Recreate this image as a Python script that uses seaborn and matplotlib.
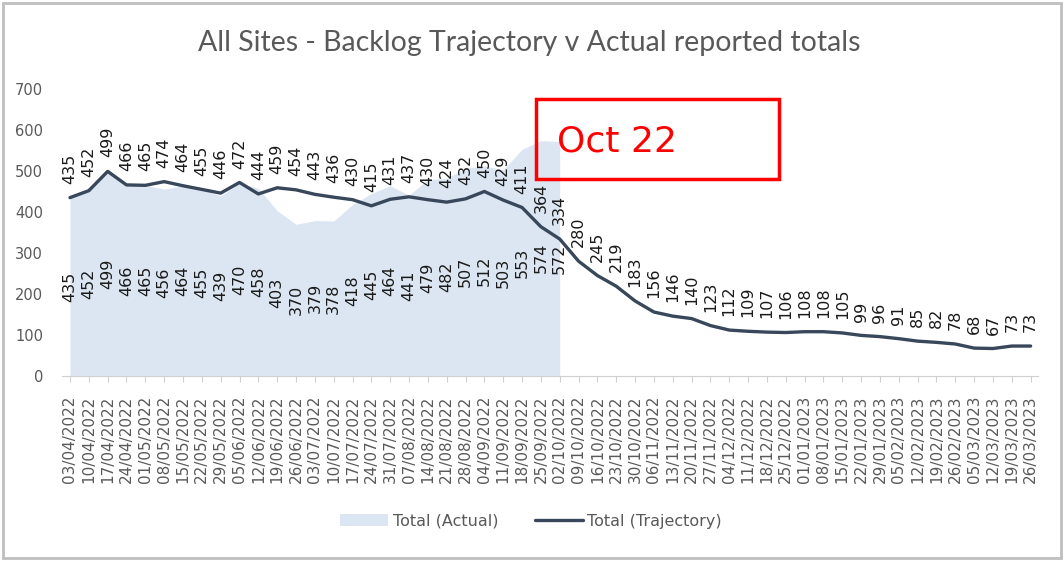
import numpy as np
import pandas as pd
import matplotlib
matplotlib.use("Agg")
import matplotlib.pyplot as plt
import seaborn as sns
from matplotlib.patches import Rectangle, Patch
from matplotlib.lines import Line2D

dates = pd.date_range("2022-04-03", "2023-03-26", freq="7D")
date_labels = [d.strftime("%d/%m/%Y") for d in dates]

trajectory = [435, 452, 499, 466, 465, 474, 464, 455, 446, 472, 444, 459, 454, 443,
              436, 430, 415, 431, 437, 430, 424, 432, 450, 429, 411, 364, 334, 280,
              245, 219, 183, 156, 146, 140, 123, 112, 109, 107, 106, 108, 108, 105,
              99, 96, 91, 85, 82, 78, 68, 67, 73, 73]
actual = [435, 452, 499, 466, 465, 456, 464, 455, 439, 470, 458, 403, 370, 379,
          378, 418, 445, 464, 441, 479, 482, 507, 512, 503, 553, 574, 572]

title = "All Sites - Backlog Trajectory v Actual reported totals"
series_names = ["Total (Actual)", "Total (Trajectory)"]
annotation = "Oct 22"

area_color = "#dce6f2"
line_color = "#38475a"
grey = "#595959"

sns.set_theme(style="white")
plt.rcParams["font.family"] = ["DejaVu Sans"]

fig = plt.figure(figsize=(10.64, 5.61), dpi=100)
ax = fig.add_axes([0.0587, 0.3298, 0.917, 0.5116])

x_all = np.arange(len(trajectory))
x_act = np.arange(len(actual))

ax.fill_between(x_act, 0, actual, color=area_color, linewidth=0, zorder=1)
df = pd.DataFrame({"x": x_all, "y": trajectory})
sns.lineplot(data=df, x="x", y="y", ax=ax, color=line_color, linewidth=2.4, zorder=3)

for xi, v in zip(x_all, trajectory):
    ax.annotate(str(v), (xi, v), xytext=(0, 10), textcoords="offset points",
                rotation=90, ha="center", va="bottom", fontsize=11.5, color="#1a1a1a", zorder=4)
for xi, v in zip(x_act, actual):
    ax.text(xi, v / 2, str(v), rotation=90, ha="center", va="center",
            fontsize=11.5, color="#1a1a1a", zorder=4)

ax.set_xlim(-0.4, len(trajectory) - 0.6)
ax.set_ylim(0, 700)
ax.set_yticks(range(0, 701, 100))
ax.set_xticks(x_all)
ax.set_xticklabels(date_labels, rotation=90, fontsize=11, color=grey)
ax.tick_params(axis="y", labelsize=10.5, labelcolor=grey, length=0, pad=14)
ax.tick_params(axis="x", length=4, width=0.8, color="#d0d0d0", pad=10, bottom=True)
ax.set_xlabel("")
ax.set_ylabel("")
for s in ["top", "right", "left"]:
    ax.spines[s].set_visible(False)
ax.spines["bottom"].set_color("#d0d0d0")
ax.spines["bottom"].set_linewidth(0.8)
ax.grid(False)

fig.text(0.497, 0.923, title, ha="center", va="center", fontsize=20.5,
         color=grey, family=["Lato", "DejaVu Sans"])

handles = [Patch(facecolor=area_color, edgecolor="none"),
           Line2D([0], [0], color=line_color, linewidth=2.4)]
fig.legend(handles, series_names, loc="center", bbox_to_anchor=(0.499, 0.071),
           ncol=2, frameon=False, fontsize=11.5, labelcolor=grey,
           handlelength=3.0, handletextpad=0.3, columnspacing=2.3)

fig.patches.append(Rectangle((536 / 1064, 1 - 179 / 561), (779 - 536) / 1064, 80 / 561,
                             transform=fig.transFigure, fill=False,
                             edgecolor="#ff0000", linewidth=2.5, zorder=5))
fig.text(557 / 1064, 1 - 141 / 561, annotation, ha="left", va="center", fontsize=26,
         color="#ff0000", zorder=6)

fig.patches.append(Rectangle((0.003, 0.006), 0.994, 0.988, transform=fig.transFigure,
                             fill=False, edgecolor="#bfbfbf", linewidth=2, zorder=0))

fig.savefig("out.png", dpi=100, facecolor="white")
